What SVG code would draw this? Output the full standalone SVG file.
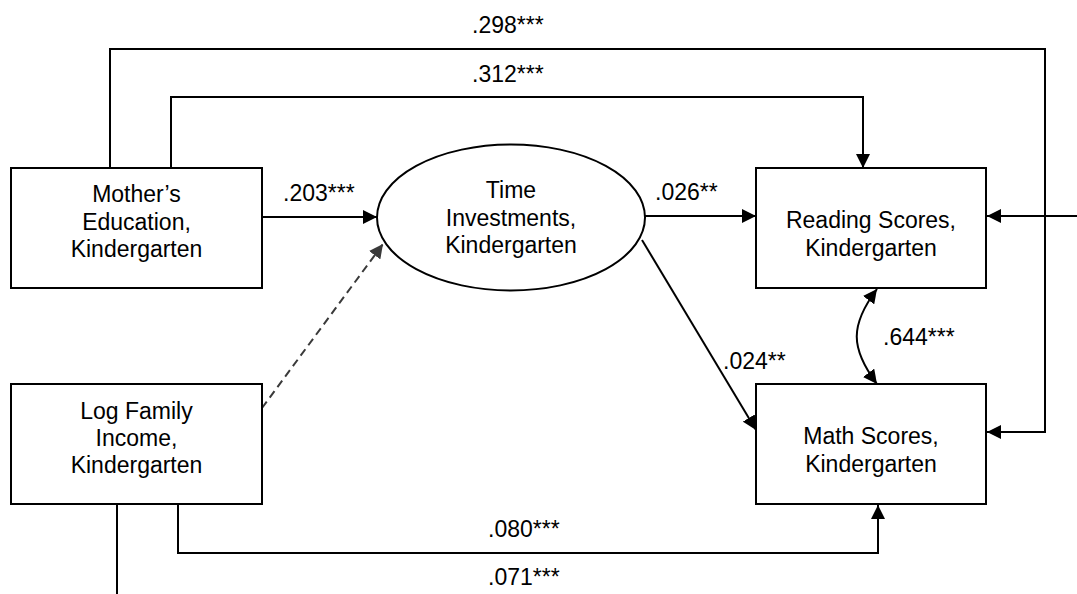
<svg xmlns="http://www.w3.org/2000/svg" width="1077" height="594" viewBox="0 0 1077 594">
  <style>
    .box { fill: #ffffff; stroke: #000000; stroke-width: 2; }
    .lbl { font-family: "Liberation Sans", Arial, sans-serif; font-size: 23px; fill: #000000; }
    .node { font-family: "Liberation Sans", Arial, sans-serif; font-size: 23px; fill: #000000; text-anchor: middle; }
    .edge { fill: none; stroke: #000000; stroke-width: 2; }
    .dash { fill: none; stroke: #3a3a3a; stroke-width: 2; stroke-dasharray: 8 5; }
  </style>
  <defs>
    <marker id="arrow" markerUnits="userSpaceOnUse" markerWidth="14" markerHeight="14" refX="14" refY="7" orient="auto">
      <path d="M0,0 L14,7 L0,14 z" fill="#000000"/>
    </marker>
    <marker id="arrow2" markerUnits="userSpaceOnUse" markerWidth="14" markerHeight="14" refX="14" refY="7" orient="auto-start-reverse">
      <path d="M0,0 L14,7 L0,14 z" fill="#000000"/>
    </marker>
    <marker id="arrowGrey" markerUnits="userSpaceOnUse" markerWidth="14" markerHeight="14" refX="14" refY="7" orient="auto">
      <path d="M0,0 L14,7 L0,14 z" fill="#3a3a3a"/>
    </marker>
  </defs>

  <!-- connectors -->
  <g id="connectors">
    <!-- mother's education -> math (outer loop) -->
    <path class="edge" d="M110,168 V49 H1045 V432 H987" marker-end="url(#arrow)"/>
    <!-- mother's education -> reading -->
    <path class="edge" d="M171,168 V97 H863 V168" marker-end="url(#arrow)"/>
    <!-- mother's education -> time investments -->
    <path class="edge" d="M262,217 H377" marker-end="url(#arrow)"/>
    <!-- time investments -> reading -->
    <path class="edge" d="M642,216 H756" marker-end="url(#arrow)"/>
    <!-- time investments -> math -->
    <path class="edge" d="M642,240 L756,430" marker-end="url(#arrow)"/>
    <!-- incoming path to reading from the right -->
    <path class="edge" d="M1077,216 H987" marker-end="url(#arrow)"/>
    <!-- log family income -> math -->
    <path class="edge" d="M178,504 V553 H878 V505" marker-end="url(#arrow)"/>
    <!-- log family income, outgoing below -->
    <path class="edge" d="M117,504 V594"/>
    <!-- log family income -> time investments (non-significant) -->
    <path class="dash" d="M262,408 L383,244" marker-end="url(#arrowGrey)"/>
    <!-- reading <-> math covariance -->
    <path class="edge" d="M877,289 C850,325 850,348 877,384" marker-start="url(#arrow2)" marker-end="url(#arrow2)"/>
  </g>

  <!-- path coefficients -->
  <g id="labels">
    <text class="lbl" x="472" y="33">.298***</text>
    <text class="lbl" x="472" y="82">.312***</text>
    <text class="lbl" x="283" y="201">.203***</text>
    <text class="lbl" x="655" y="200">.026**</text>
    <text class="lbl" x="723" y="369">.024**</text>
    <text class="lbl" x="883" y="345">.644***</text>
    <text class="lbl" x="488" y="537">.080***</text>
    <text class="lbl" x="488" y="585">.071***</text>
  </g>

  <g id="mothers-education">
    <rect class="box" x="11" y="168" width="251" height="120"/>
    <text class="node" x="136.5" y="202">Mother’s</text>
    <text class="node" x="136.5" y="229.5">Education,</text>
    <text class="node" x="136.5" y="257">Kindergarten</text>
  </g>

  <g id="log-family-income">
    <rect class="box" x="11" y="384" width="251" height="120"/>
    <text class="node" x="136.5" y="419">Log Family</text>
    <text class="node" x="136.5" y="446">Income,</text>
    <text class="node" x="136.5" y="473">Kindergarten</text>
  </g>

  <g id="time-investments">
    <ellipse class="box" cx="511" cy="217.5" rx="134" ry="73"/>
    <text class="node" x="511" y="198">Time</text>
    <text class="node" x="511" y="225.5">Investments,</text>
    <text class="node" x="511" y="253">Kindergarten</text>
  </g>

  <g id="reading-scores">
    <rect class="box" x="756" y="168" width="230" height="120"/>
    <text class="node" x="871" y="228">Reading Scores,</text>
    <text class="node" x="871" y="256">Kindergarten</text>
  </g>

  <g id="math-scores">
    <rect class="box" x="756" y="384" width="230" height="120"/>
    <text class="node" x="871" y="444">Math Scores,</text>
    <text class="node" x="871" y="472">Kindergarten</text>
  </g>
</svg>
